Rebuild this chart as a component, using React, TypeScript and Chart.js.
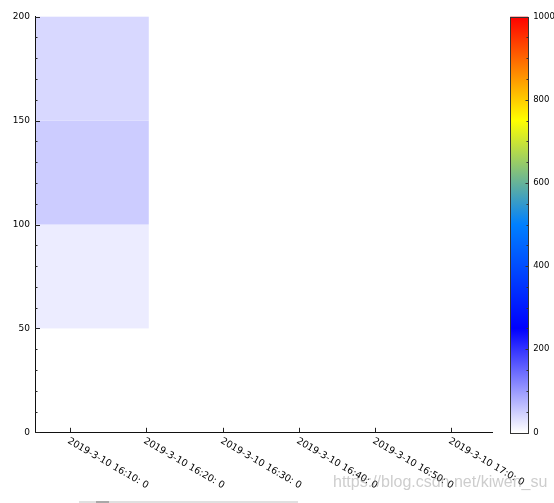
import React, { useEffect, useRef } from "react";
import { Chart, registerables } from "chart.js";

Chart.register(...registerables);

// x values: minutes after 2019-3-10 16:00:00
const xAxisRange = [5.42, 65.4];
const xTickValues = [10, 20, 30, 40, 50, 60];
const yAxisRange = [0, 200];
const yStep = 50;
const yMinorStep = 10;

// heat-map cells
const cellXStart = [5.42, 5.42, 5.42];
const cellXEnd = [20.33, 20.33, 20.33];
const cellYLow = [50, 100, 150];
const cellYHigh = [100, 150, 200];
const cellValues = [19, 50, 38];

// colour scale
const colorRange = [0, 1000];
const colorStops = [0, 250, 500, 750, 1000];
const colorStopRGB = [
  [255, 255, 255],
  [0, 0, 255],
  [0, 128, 255],
  [255, 255, 0],
  [255, 0, 0],
];
const colorTickValues = [0, 200, 400, 600, 800, 1000];
const colorMinorStep = 50;

const FONT = "DejaVu Sans";
const Y_AXIS_WIDTH = 35;
const CB_GAP = 17.5;
const CB_WIDTH = 18;

function colorFor(v: number): string {
  for (let i = 0; i < colorStops.length - 1; i++) {
    if (v <= colorStops[i + 1]) {
      const t = (v - colorStops[i]) / (colorStops[i + 1] - colorStops[i]);
      const a = colorStopRGB[i];
      const b = colorStopRGB[i + 1];
      const c = a.map((av, k) => Math.round(av + (b[k] - av) * t));
      return `rgb(${c[0]},${c[1]},${c[2]})`;
    }
  }
  const l = colorStopRGB[colorStopRGB.length - 1];
  return `rgb(${l[0]},${l[1]},${l[2]})`;
}

function fmtTime(m: number): string {
  const total = Math.round(m * 60);
  const h = 16 + Math.floor(total / 3600);
  const mi = Math.floor((total % 3600) / 60);
  const s = total % 60;
  return `2019-3-10 ${h}:${mi}:${String(s).padStart(2, " ")}`;
}

const heatPlugin = {
  id: "heatPlugin",
  beforeDraw(chart: any) {
    const { ctx } = chart;
    const x = chart.scales.x;
    const y = chart.scales.y;
    ctx.save();
    for (let i = 0; i < cellValues.length; i++) {
      const x0 = x.getPixelForValue(cellXStart[i]);
      const x1 = x.getPixelForValue(cellXEnd[i]);
      const y0 = y.getPixelForValue(cellYLow[i]);
      const y1 = y.getPixelForValue(cellYHigh[i]);
      ctx.fillStyle = colorFor(cellValues[i]);
      ctx.fillRect(x0, y1, x1 - x0, y0 - y1);
    }
    ctx.restore();
  },
  afterDraw(chart: any) {
    const { ctx, chartArea } = chart;
    const x = chart.scales.x;
    const y = chart.scales.y;
    const cb = chart.scales.cb;
    ctx.save();
    ctx.strokeStyle = "#222";
    ctx.lineWidth = 1;
    // y ticks (inward)
    for (let v = yAxisRange[0]; v <= yAxisRange[1]; v += yMinorStep) {
      const py = Math.round(y.getPixelForValue(v)) + 0.5;
      const len = v % yStep === 0 ? 5 : 2.5;
      ctx.beginPath();
      ctx.moveTo(chartArea.left, py);
      ctx.lineTo(chartArea.left + len, py);
      ctx.stroke();
    }
    // x ticks (upward) and rotated labels
    ctx.fillStyle = "#000";
    ctx.font = `9.5px "${FONT}"`;
    for (const v of xTickValues) {
      const px = Math.round(x.getPixelForValue(v)) + 0.5;
      ctx.beginPath();
      ctx.moveTo(px, chartArea.bottom);
      ctx.lineTo(px, chartArea.bottom - 4.5);
      ctx.stroke();
      ctx.save();
      ctx.translate(px, chartArea.bottom + 4);
      ctx.rotate((30 * Math.PI) / 180);
      ctx.textAlign = "left";
      ctx.textBaseline = "top";
      ctx.fillText(fmtTime(v), 0, 0);
      ctx.restore();
    }
    // colour bar
    const bx = chartArea.right + CB_GAP;
    const top = cb.getPixelForValue(colorRange[1]);
    const bot = cb.getPixelForValue(colorRange[0]);
    const grad = ctx.createLinearGradient(0, bot, 0, top);
    colorStops.forEach((s) => {
      grad.addColorStop((s - colorRange[0]) / (colorRange[1] - colorRange[0]), colorFor(s));
    });
    ctx.fillStyle = grad;
    ctx.fillRect(bx, top, CB_WIDTH, bot - top);
    ctx.strokeStyle = "#333";
    ctx.strokeRect(Math.round(bx) + 0.5, Math.round(top) + 0.5, CB_WIDTH, Math.round(bot - top));
    const rx = Math.round(bx) + 0.5 + CB_WIDTH;
    for (let v = colorRange[0] + colorMinorStep; v < colorRange[1]; v += colorMinorStep) {
      const py = Math.round(cb.getPixelForValue(v)) + 0.5;
      const len = colorTickValues.includes(v) ? 3 : 2;
      ctx.beginPath();
      ctx.moveTo(rx, py);
      ctx.lineTo(rx - len, py);
      ctx.stroke();
    }
    ctx.fillStyle = "#000";
    ctx.font = `8.5px "${FONT}"`;
    ctx.textAlign = "left";
    ctx.textBaseline = "middle";
    for (const v of colorTickValues) {
      ctx.fillText(String(v), bx + CB_WIDTH + 5, cb.getPixelForValue(v));
    }
    ctx.restore();
  },
};

export default function App() {
  const ref = useRef<HTMLCanvasElement | null>(null);
  useEffect(() => {
    if (!ref.current) return;
    const chart = new Chart(ref.current, {
      type: "scatter",
      data: { datasets: [] },
      options: {
        animation: false,
        responsive: false,
        devicePixelRatio: 1,
        events: [],
        layout: { padding: { left: 0, top: 16.7, right: 61.3, bottom: 70.7 } },
        plugins: {
          legend: { display: false },
          tooltip: { enabled: false },
          title: { display: false },
        },
        scales: {
          x: {
            type: "linear",
            min: xAxisRange[0],
            max: xAxisRange[1],
            afterFit(s: any) {
              s.height = 0;
            },
            grid: { display: false, drawTicks: false },
            ticks: { display: false },
            border: { display: true, color: "#111", width: 1 },
          },
          y: {
            type: "linear",
            min: yAxisRange[0],
            max: yAxisRange[1],
            afterFit(s: any) {
              s.width = Y_AXIS_WIDTH;
            },
            grid: { display: false, drawTicks: false },
            ticks: {
              stepSize: yStep,
              padding: 5,
              color: "#000",
              font: { family: FONT, size: 9 },
            },
            border: { display: true, color: "#111", width: 1 },
          },
          cb: {
            type: "linear",
            position: "right",
            display: false,
            min: colorRange[0],
            max: colorRange[1],
          },
        },
      } as any,
      plugins: [heatPlugin],
    });
    return () => chart.destroy();
  }, []);
  return (
    <div style={{ position: "absolute", left: 0, top: 0, width: 554, height: 503, background: "#fff", overflow: "hidden" }}>
      <canvas ref={ref} width={554} height={503} style={{ display: "block" }} />
      <div
        style={{
          position: "absolute",
          left: 333,
          top: 473.7,
          fontFamily: "Liberation Sans, Arial, sans-serif",
          fontSize: 16,
          lineHeight: "16px",
          whiteSpace: "nowrap",
          color: "rgba(130,130,130,0.4)",
        }}
      >
        https://blog.csdn.net/kiwen_su
      </div>
      <div style={{ position: "absolute", left: 79, top: 501, width: 219, height: 2, background: "#e0e0e0" }} />
      <div style={{ position: "absolute", left: 96, top: 501, width: 13, height: 2, background: "#a8a8a8" }} />
    </div>
  );
}
